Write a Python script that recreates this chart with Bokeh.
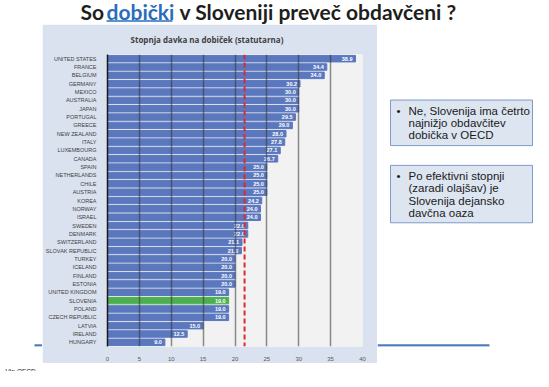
from bokeh.plotting import figure
from bokeh.layouts import column, row
from bokeh.models import ColumnDataSource, Span, FactorRange, FixedTicker, Range1d
from bokeh.embed import file_html
from bokeh.resources import INLINE
from bokeh.core.properties import value

countries = ["UNITED STATES", "FRANCE", "BELGIUM", "GERMANY", "MEXICO", "AUSTRALIA",
             "JAPAN", "PORTUGAL", "GREECE", "NEW ZEALAND", "ITALY", "LUXEMBOURG",
             "CANADA", "SPAIN", "NETHERLANDS", "CHILE", "AUSTRIA", "KOREA", "NORWAY",
             "ISRAEL", "SWEDEN", "DENMARK", "SWITZERLAND", "SLOVAK REPUBLIC", "TURKEY",
             "ICELAND", "FINLAND", "ESTONIA", "UNITED KINGDOM", "SLOVENIA", "POLAND",
             "CZECH REPUBLIC", "LATVIA", "IRELAND", "HUNGARY"]
rates = [38.9, 34.4, 34.0, 30.2, 30.0, 30.0, 30.0, 29.5, 29.0, 28.0, 27.8, 27.1,
         26.7, 25.0, 25.0, 25.0, 25.0, 24.2, 24.0, 24.0, 22.0, 22.0, 21.1, 21.0,
         20.0, 20.0, 20.0, 20.0, 19.0, 19.0, 19.0, 19.0, 15.0, 12.5, 9.0]
highlight = "SLOVENIA"
reference_rate = 21.5
x_ticks = [0, 5, 10, 15, 20, 25, 30, 35, 40]

title_parts = ["So", "dobički", "v Sloveniji preveč obdavčeni ?"]
chart_title = "Stopnja davka na dobiček (statutarna)"
box1_lines = ["Ne, Slovenija ima četrto", "najnižjo obdavčitev", "dobička v OECD"]
box2_lines = ["Po efektivni stopnji", "(zaradi olajšav) je", "Slovenija dejansko", "davčna oaza"]
source_note = "Vir: OECD"

BLUE = "#5b78bf"
GREEN = "#4caf50"
PANEL = "#dbe2ef"
RULE = "#4a7ebb"
TXT = "#1a1a1a"
LINK = "#2a6ebb"

# chart panel geometry (page pixels): panel 42..377 x 24..363, plot frame 99..362 x 54..349
PANEL_TOP, PANEL_BOTTOM = 24, 363
FRAME_TOP, FRAME_BOTTOM = 54, 349


def deco(x0, x1, y0, y1, fy0=None, fy1=None):
    """Decoration figure; coordinates are page pixels (y down). The frame covers fy0..fy1."""
    fy0 = y0 if fy0 is None else fy0
    fy1 = y1 if fy1 is None else fy1
    f = figure(width=x1 - x0, height=y1 - y0, x_range=Range1d(x0, x1), y_range=Range1d(fy1, fy0),
               x_axis_type=None, y_axis_type=None, output_backend="svg", toolbar_location=None,
               title=None, min_border=0, min_border_left=0, min_border_right=0,
               min_border_top=fy0 - y0, min_border_bottom=y1 - fy1)
    f.grid.visible = False
    f.outline_line_color = None
    f.background_fill_color = "white"
    f.border_fill_color = "white"
    return f


# ---- top title strip ----
T = deco(0, 533, 0, PANEL_TOP)
title_style = dict(text_font=value("Lato"), text_font_size="21px", text_font_style="bold",
                   text_baseline="middle")
T.text(x=[80], y=[10.5], text=[title_parts[0]], text_color="#1e1e1e", **title_style)
T.text(x=[106], y=[10.5], text=[title_parts[1]], text_color=LINK, **title_style)
T.text(x=[179], y=[10.5], text=[title_parts[2]], text_color="#1e1e1e", **title_style)
T.segment(x0=[106], x1=[172], y0=[20.5], y1=[20.5], line_color=LINK, line_width=1.5)

# ---- left strip ----
L = deco(0, 42, PANEL_TOP, PANEL_BOTTOM, FRAME_TOP, FRAME_BOTTOM)
L.segment(x0=[34], x1=[42], y0=[348], y1=[348], line_color=RULE, line_width=2.5)

# ---- chart ----
colors = [GREEN if c == highlight else BLUE for c in countries]
src = ColumnDataSource(dict(country=countries, rate=rates, color=colors,
                            label=[f"{r:.1f}" for r in rates]))

C = figure(width=335, height=PANEL_BOTTOM - PANEL_TOP, x_range=Range1d(0, 40),
           y_range=FactorRange(factors=list(reversed(countries)), range_padding=0),
           output_backend="svg", toolbar_location=None, title=chart_title,
           min_border_left=57, min_border_right=15,
           min_border_top=FRAME_TOP - PANEL_TOP, min_border_bottom=PANEL_BOTTOM - FRAME_BOTTOM)
C.border_fill_color = PANEL
C.background_fill_color = "#f2f2f2"
C.outline_line_color = None
C.title.text_font = "Open Sans"
C.title.text_font_size = "8px"
C.title.text_font_style = "bold"
C.title.text_color = "#404040"
C.title.align = "left"
C.title.offset = 23
C.title.vertical_align = "top"
C.title.standoff = 16

C.hbar(y="country", right="rate", left=0, height=0.78, color="color", source=src)
C.text(x="rate", y="country", text="label", source=src, text_align="right", text_baseline="middle",
       x_offset=-3, text_color="white", text_font_size="5.5px", text_font_style="bold",
       text_font=value("Liberation Sans"))

C.xgrid.ticker = FixedTicker(ticks=x_ticks)
C.xgrid.grid_line_color = "#333333"
C.xgrid.grid_line_alpha = 0.55
C.xgrid.grid_line_width = 1.5
C.xgrid.level = "glyph"
C.ygrid.grid_line_color = None

C.xaxis.ticker = FixedTicker(ticks=x_ticks)
C.xaxis.axis_line_color = None
C.xaxis.major_tick_line_color = None
C.xaxis.minor_tick_line_color = None
C.xaxis.major_label_text_font_size = "6px"
C.xaxis.major_label_text_color = "#595959"
C.xaxis.major_label_text_font = "Liberation Sans"
C.xaxis.major_label_standoff = 4

C.yaxis.axis_line_color = "#1a1a1a"
C.yaxis.axis_line_width = 1.5
C.yaxis.major_tick_line_color = None
C.yaxis.minor_tick_line_color = None
C.yaxis.major_label_text_font_size = "5.5px"
C.yaxis.major_label_text_color = "#404040"
C.yaxis.major_label_text_font = "Liberation Sans"
C.yaxis.major_label_standoff = 5

C.add_layout(Span(location=reference_rate, dimension="height", line_color="#e3262b",
                  line_width=2, line_dash="5 3"))

# ---- right strip with text boxes ----
R = deco(377, 533, PANEL_TOP, PANEL_BOTTOM, FRAME_TOP, FRAME_BOTTOM)
R.segment(x0=[377], x1=[489], y0=[348], y1=[348], line_color=RULE, line_width=2.5)
box_specs = [(100, 146, box1_lines, 111), (166, 224, box2_lines, 177)]
for top, bottom, lines, y0 in box_specs:
    R.quad(left=[390], right=[532], top=[top], bottom=[bottom], fill_color="#dde5f1",
           line_color="#7d9bc9", line_width=1)
    R.text(x=[396], y=[y0], text=["•"], text_font=value("Liberation Sans"), text_font_size="11.5px",
           text_color=TXT, text_baseline="middle")
    R.text(x=[408] * len(lines), y=[y0 + i * 12.3 for i in range(len(lines))], text=lines,
           text_font=value("Liberation Sans"), text_font_size="11.5px", text_color=TXT,
           text_baseline="middle")

# ---- bottom strip ----
F = deco(0, 533, PANEL_BOTTOM, 371)
F.text(x=[5], y=[366.8], text=[source_note], text_font=value("Liberation Sans"), text_font_size="6.5px",
       text_color=TXT, text_baseline="middle")

layout = column(T, row(L, C, R, spacing=0), F, spacing=0)
open("out.html", "w").write(file_html(layout, INLINE))
